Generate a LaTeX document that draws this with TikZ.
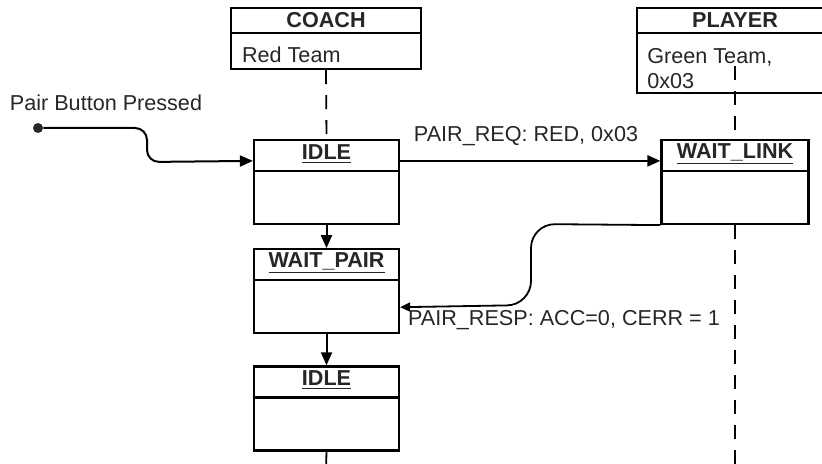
\documentclass[tikz,border=0pt]{standalone}
\usepackage{fontspec}
\setmainfont{Liberation Sans}
\usepackage{tikz}
\usetikzlibrary{positioning, calc, arrows.meta}

\tikzset{
  txt/.style = {font=\fontsize{10.8}{12.5}\selectfont, text=black!85},
  objbox/.style = {draw, line width=1.1pt, minimum width=95pt, minimum height=30.5pt,
    path picture={\draw[line width=1.1pt] ([yshift=-12.5pt]path picture bounding box.north west)
      -- ([yshift=-12.5pt]path picture bounding box.north east);}},
  statebox/.style = {draw, fill=white, line width=1.1pt, minimum width=72.5pt, minimum height=42pt,
    path picture={\draw[line width=1.1pt] ([yshift=-15.5pt]path picture bounding box.north west)
      -- ([yshift=-15.5pt]path picture bounding box.north east);}},
  statename/.style = {txt, font=\fontsize{10.8}{12.5}\selectfont\bfseries},
  lifeline/.style = {line width=0.9pt, dash pattern=on 7pt off 5.5pt},
  msg/.style = {line width=1pt, -{Triangle[length=6.5pt, width=5.5pt]}},
}

\begin{document}
\begin{tikzpicture}[x=0.5pt, y=-0.5pt]
  \clip (0,0) rectangle (822,464);

  % objects
  \node[objbox] (coach) at (326,38.5) {};
  \node[statename] (coachT) at (326,20) {COACH};
  \node[txt, anchor=west] (coachD) at (235,55) {Red Team};

  \node[objbox, minimum width=98pt, minimum height=42.5pt] (player) at (735,50.5) {};
  \node[statename] (playerT) at (735,20) {PLAYER};
  \node[txt, anchor=north west, align=left, inner sep=0pt] (playerD) at (647,48) {Green Team,\\0x03};

  % states
  \node[statebox] (idleA) at (326.5,182) {};
  \node[statebox, below=11.5pt of idleA] (waitpair) {};
  \node[statebox, below=15.5pt of waitpair] (idleB) {};
  \node[statebox, minimum width=73.5pt] (waitlink) at (735,182) {};

  \node[statename] (idleAT) at ([yshift=-7.5pt]idleA.north) {\underline{IDLE}};
  \node[statename] (waitpairT) at ([yshift=-7.5pt]waitpair.north) {\underline{WAIT\_PAIR}};
  \node[statename] (idleBT) at ([yshift=-7.5pt]idleB.north) {\underline{IDLE}};
  \node[statename] (waitlinkT) at ([yshift=-7.5pt]waitlink.north) {\underline{WAIT\_LINK}};

  % lifelines
  \coordinate (coachEnd) at (326,470);
  \coordinate (playerTop) at (735,66);
  \coordinate (playerEnd) at (735,470);
  \draw[lifeline] (coach.south) -- (idleA.north);
  \draw[lifeline] (idleB.south) -- (coachEnd);
  \draw[lifeline] (playerTop) -- (waitlink.north);
  \draw[lifeline] (waitlink.south) -- (playerEnd);

  % trigger
  \node[circle, fill=black!85, inner sep=0pt, minimum size=5pt] (btn) at (38,128) {};
  \node[txt] (btnL) at (106,103) {Pair Button Pressed};
  \draw[msg, rounded corners=6pt] (btn) -- (147,128) -- (147,162) -- ($(idleA.north west)+(0,22)$);

  % messages
  \draw[msg] ($(idleA.north east)+(0,22)$) -- ($(waitlink.north west)+(0,22)$);
  \node[txt] (reqL) at (526,136) {PAIR\_REQ: RED, 0x03};

  \draw[line width=0.9pt, -{Triangle[length=5pt, width=4.5pt]}, rounded corners=12pt]
    (waitlink.south west) -- (531,224) -- (531,305) -- ($(waitpair.east)+(0,16)$);
  \node[txt] (respL) at (564,320) {PAIR\_RESP: ACC=0, CERR = 1};

  \draw[msg] (idleA.south) -- (waitpair.north);
  \draw[msg] (waitpair.south) -- (idleB.north);
\end{tikzpicture}
\end{document}
